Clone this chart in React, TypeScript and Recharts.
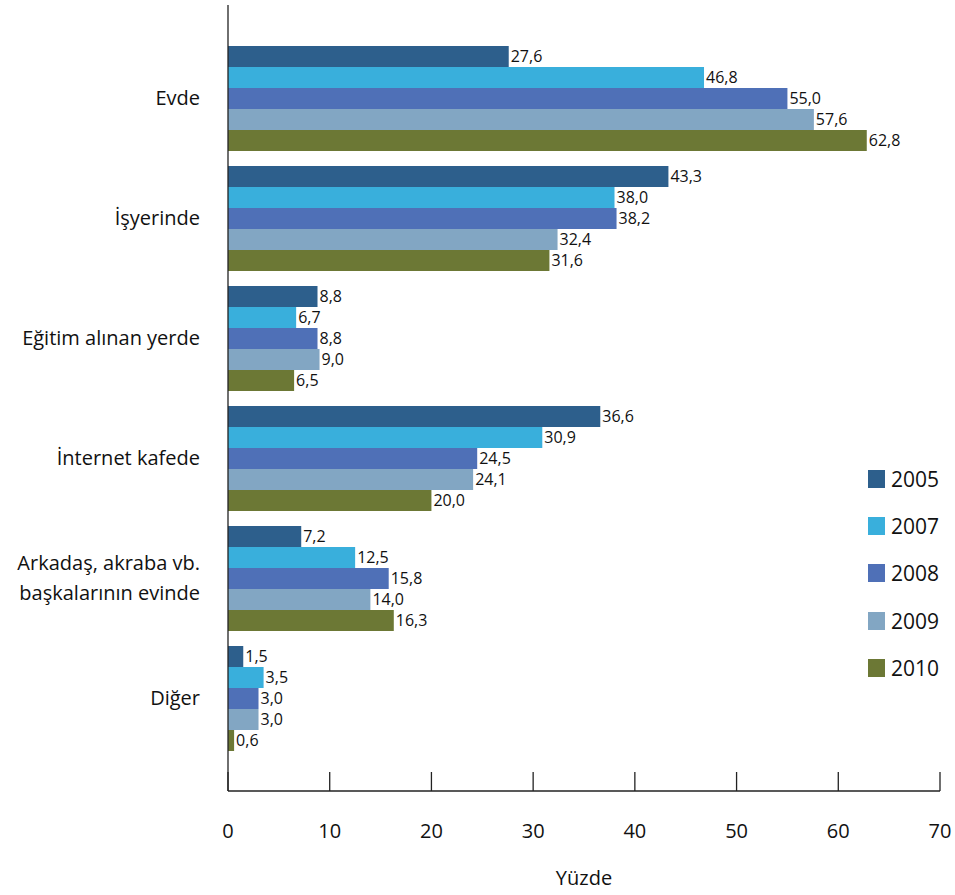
import React from "react";
import { Bar, BarChart, LabelList, XAxis, YAxis } from "recharts";

// Internet usage location by year (percent).
const categories = [
  "Evde",
  "İşyerinde",
  "Eğitim alınan yerde",
  "İnternet kafede",
  "Arkadaş, akraba vb.\nbaşkalarının evinde",
  "Diğer",
];
const years = ["2005", "2007", "2008", "2009", "2010"];
const v2005 = [27.6, 43.3, 8.8, 36.6, 7.2, 1.5];
const v2007 = [46.8, 38.0, 6.7, 30.9, 12.5, 3.5];
const v2008 = [55.0, 38.2, 8.8, 24.5, 15.8, 3.0];
const v2009 = [57.6, 32.4, 9.0, 24.1, 14.0, 3.0];
const v2010 = [62.8, 31.6, 6.5, 20.0, 16.3, 0.6];
const xTicks = [0, 10, 20, 30, 40, 50, 60, 70];

const COLORS: Record<string, string> = {
  "2005": "#2d5f8c",
  "2007": "#39afdc",
  "2008": "#4f70b7",
  "2009": "#82a6c3",
  "2010": "#6c7835",
};

const FONT = "'Liberation Sans Narrow', 'Open Sans', sans-serif";

const seriesByYear: Record<string, number[]> = {
  "2005": v2005,
  "2007": v2007,
  "2008": v2008,
  "2009": v2009,
  "2010": v2010,
};

const rows = categories.map((name, i) => {
  const row: Record<string, string | number> = { name };
  for (const y of years) row[y] = seriesByYear[y][i];
  return row;
});

const fmt = (v: number) => v.toFixed(1).replace(".", ",");

function ValueLabel(props: any) {
  const { x, y, width, height, value } = props;
  const text = fmt(Number(value));
  const left = x + width + 1;
  return (
    <g>
      <rect x={left} y={y} width={text.length * 8.8} height={height} fill="#fff" />
      <text
        x={left + 1}
        y={y + height / 2}
        dy="0.36em"
        fontSize={16}
        fontFamily={FONT}
        fill="#111"
      >
        {text}
      </text>
    </g>
  );
}

function CategoryTick(props: any) {
  const { x, y, payload } = props;
  const lines = String(payload.value).split("\n");
  const lh = 30;
  const start = -((lines.length - 1) * lh) / 2;
  return (
    <text
      x={x - 20}
      y={y}
      textAnchor="end"
      fontSize={20}
      fontFamily={FONT}
      fill="#111"
    >
      {lines.map((l, i) => (
        <tspan key={i} x={x - 20} y={y + start + i * lh} dy="0.36em">
          {l}
        </tspan>
      ))}
    </text>
  );
}

function ValueTick(props: any) {
  const { x, y, payload } = props;
  return (
    <g>
      <line x1={x} x2={x} y1={y} y2={y - 19} stroke="#222" strokeWidth={1.3} />
      <text
        x={x}
        y={y + 47}
        textAnchor="middle"
        fontSize={20}
        fontFamily={FONT}
        fill="#111"
      >
        {payload.value}
      </text>
    </g>
  );
}

function YearLegend() {
  return (
    <div
      style={{
        position: "absolute",
        left: 868,
        top: 455,
        fontFamily: FONT,
        fontSize: 21,
        color: "#111",
      }}
    >
      {years.map((y) => (
        <div
          key={y}
          style={{ display: "flex", alignItems: "center", height: 47.3 }}
        >
          <span
            style={{
              display: "inline-block",
              width: 17,
              height: 18,
              background: COLORS[y],
              marginRight: 6,
            }}
          />
          {y}
        </div>
      ))}
    </div>
  );
}

export default function App() {
  return (
    <div
      style={{
        position: "absolute",
        left: 0,
        top: 0,
        width: 955,
        height: 895,
        background: "#fff",
      }}
    >
      <BarChart
        width={955}
        height={895}
        data={rows}
        layout="vertical"
        margin={{ top: 5, right: 15, bottom: 0, left: 0 }}
        barCategoryGap={8}
        barGap={0}
      >
        <XAxis
          type="number"
          domain={[0, 70]}
          ticks={xTicks}
          tick={<ValueTick />}
          tickLine={false}
          tickSize={0}
          tickMargin={0}
          axisLine={{ stroke: "#222", strokeWidth: 1.3 }}
          height={104}
          label={{
            value: "Yüzde",
            position: "insideBottom",
            offset: 10,
            fontSize: 20,
            fontFamily: FONT,
            fill: "#111",
          }}
        />
        <YAxis
          type="category"
          dataKey="name"
          width={228}
          tick={<CategoryTick />}
          tickLine={false}
          axisLine={{ stroke: "#222", strokeWidth: 1.3 }}
          padding={{ top: 33, bottom: 33 }}
          interval={0}
        />
        {years.map((y) => (
          <Bar key={y} dataKey={y} fill={COLORS[y]} isAnimationActive={false}>
            <LabelList dataKey={y} content={<ValueLabel />} />
          </Bar>
        ))}
      </BarChart>
      <YearLegend />
    </div>
  );
}
